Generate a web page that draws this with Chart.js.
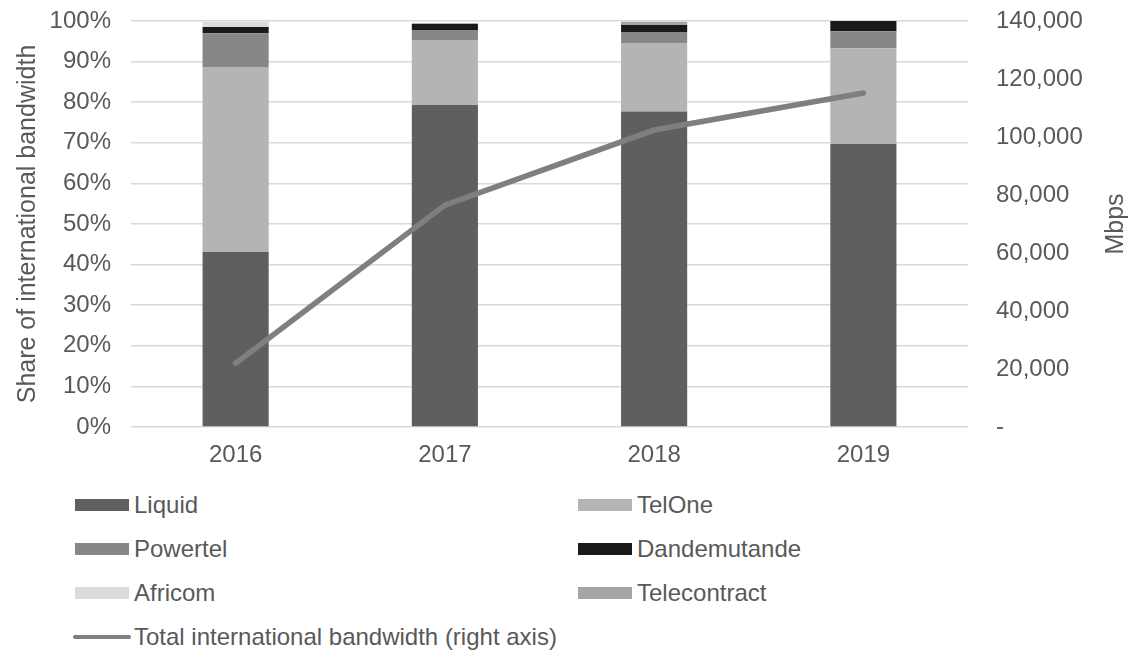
<!DOCTYPE html>
<html>
<head>
<meta charset="utf-8">
<script src="https://cdn.jsdelivr.net/npm/chart.js@4/dist/chart.umd.min.js"></script>
<style>
  html, body { margin: 0; padding: 0; background: #fff; }
  #wrap { position: relative; width: 1137px; height: 655px; font-family: "Liberation Sans", Arial, sans-serif; }
  #cv { position: absolute; left: 0; top: 0; }
  .leg { position: absolute; font-size: 24px; color: #595959; display: flex; align-items: center; white-space: nowrap; height: 30px; }
  .sw { display: inline-block; width: 54px; height: 12px; margin-right: 5px; }
  .ln { display: inline-block; width: 58px; height: 4px; border-radius: 2px; margin-right: 3px; }
</style>
</head>
<body>
<div id="wrap">
  <canvas id="cv" width="1137" height="470"></canvas>
  <div id="legend"></div>
</div>
<script>
const years = ['2016', '2017', '2018', '2019'];
const liquid = [43.1, 79.3, 77.7, 69.7];
const telone = [45.6, 16.0, 16.9, 23.6];
const powertel = [8.3, 2.5, 2.7, 4.2];
const dandemutande = [1.5, 1.5, 1.7, 2.5];
const africom = [1.3, 0.2, 0, 0];
const telecontract = [0, 0, 0.8, 0];
const totalMbps = [22000, 76500, 102400, 115200];
const leftTicks = [0, 10, 20, 30, 40, 50, 60, 70, 80, 90, 100];
const rightTicks = [0, 20000, 40000, 60000, 80000, 100000, 120000, 140000];

const txt = '#595959';
const FAM = '"Liberation Sans", Arial, sans-serif';
const font = { family: FAM, size: 24 };

const barSets = [
  ['Liquid', liquid, '#5f5f5f'],
  ['TelOne', telone, '#b4b4b4'],
  ['Powertel', powertel, '#878787'],
  ['Dandemutande', dandemutande, '#1a1a1a'],
  ['Africom', africom, '#dcdcdc'],
  ['Telecontract', telecontract, '#a5a5a5']
];

const datasets = [{
  type: 'line', label: 'Total international bandwidth (right axis)', data: totalMbps,
  yAxisID: 'y1', borderColor: '#7f7f7f', backgroundColor: '#7f7f7f', borderWidth: 5.5,
  pointRadius: 0, tension: 0, order: 0, borderCapStyle: 'round'
}];
barSets.forEach(([label, data, color]) => datasets.push({
  type: 'bar', label, data, backgroundColor: color, yAxisID: 'y', stack: 's', order: 1,
  barPercentage: 0.316, categoryPercentage: 1.0
}));

const rightTitle = {
  id: 'rightTitle',
  afterDraw(chart) {
    const ctx = chart.ctx;
    const a = chart.chartArea;
    ctx.save();
    ctx.translate(1116, (a.top + a.bottom) / 2);
    ctx.rotate(-Math.PI / 2);
    ctx.font = '25px ' + FAM;
    ctx.fillStyle = txt;
    ctx.textAlign = 'center';
    ctx.textBaseline = 'middle';
    ctx.fillText('Mbps', 0, 0);
    ctx.restore();
  }
};

new Chart(document.getElementById('cv'), {
  data: { labels: years, datasets },
  options: {
    responsive: false, animation: false,
    layout: { padding: { top: 21, right: 0, bottom: 0, left: 0 } },
    plugins: { legend: { display: false }, tooltip: { enabled: false } },
    scales: {
      x: {
        grid: { display: false, drawTicks: false }, border: { display: false },
        ticks: { color: txt, font, padding: 14 },
        afterFit: s => { s.height = 43; s.paddingLeft = 0; s.paddingRight = 0; }
      },
      y: {
        position: 'left', stacked: true, min: 0, max: 100,
        afterBuildTicks: s => { s.ticks = leftTicks.map(v => ({ value: v })); },
        ticks: { color: txt, font, padding: 20, callback: v => v + '%' },
        grid: { color: '#d9d9d9', lineWidth: 1.5, drawTicks: false },
        border: { display: false },
        title: { display: true, text: 'Share of international bandwidth', color: txt, font: { family: FAM, size: 25 }, padding: { top: 13, bottom: 0 } },
        afterFit: s => { s.width = 131; s.paddingTop = 0; s.paddingBottom = 0; }
      },
      y1: {
        position: 'right', min: 0, max: 140000,
        afterBuildTicks: s => { s.ticks = rightTicks.map(v => ({ value: v })); },
        ticks: { color: txt, font, padding: 28, callback: v => v === 0 ? '-' : v.toLocaleString('en-US') },
        grid: { display: false, drawTicks: false }, border: { display: false },
        afterFit: s => { s.width = 169; s.paddingTop = 0; s.paddingBottom = 0; }
      }
    }
  },
  plugins: [rightTitle]
});

// HTML legend in two columns
const legend = document.getElementById('legend');
const items = [
  ['Liquid', '#5f5f5f', 75, 505], ['TelOne', '#b4b4b4', 578, 505],
  ['Powertel', '#878787', 75, 549], ['Dandemutande', '#1a1a1a', 578, 549],
  ['Africom', '#dcdcdc', 75, 593], ['Telecontract', '#a5a5a5', 578, 593]
];
items.forEach(([t, c, x, y]) => {
  const d = document.createElement('div');
  d.className = 'leg'; d.style.left = x + 'px'; d.style.top = (y - 15) + 'px';
  d.innerHTML = '<span class="sw" style="background:' + c + '"></span>' + t;
  legend.appendChild(d);
});
const l = document.createElement('div');
l.className = 'leg'; l.style.left = '73px'; l.style.top = (637 - 15) + 'px';
l.innerHTML = '<span class="ln" style="background:#7f7f7f"></span>' + datasets[0].label;
legend.appendChild(l);
</script>
</body>
</html>
